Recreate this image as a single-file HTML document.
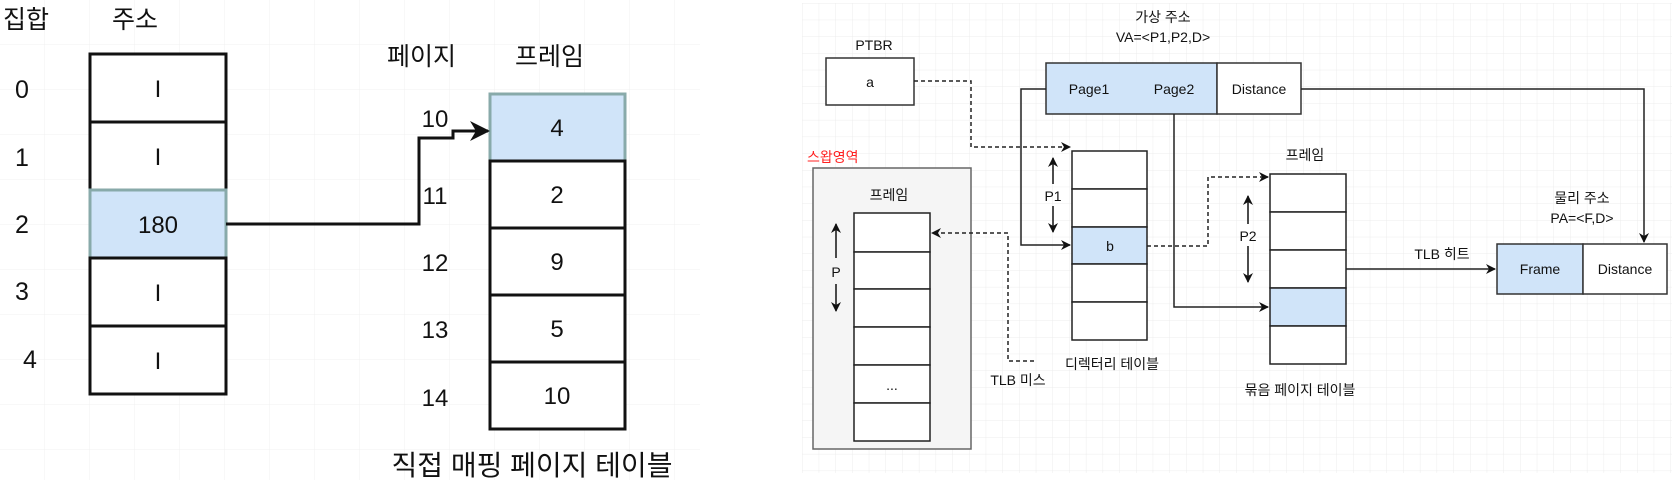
<!DOCTYPE html>
<html><head><meta charset="utf-8"><style>
html,body{margin:0;padding:0;background:#fff;}
svg{display:block;}
text{font-family:"Liberation Sans","Noto Sans CJK KR",sans-serif;fill:#111;}
</style></head><body>
<svg width="1672" height="480" viewBox="0 0 1672 480" xmlns="http://www.w3.org/2000/svg">
<defs>
<pattern id="g1" width="45" height="45" patternUnits="userSpaceOnUse"><path d="M45 0V45M0 45H45" fill="none" stroke="#f0f0f0" stroke-width="1"/></pattern>
<pattern id="g2" width="16.7" height="16.7" patternUnits="userSpaceOnUse" x="802" y="3"><path d="M0 0V16.7M0 0H16.7" fill="none" stroke="#ececec" stroke-width="1"/></pattern>
<marker id="a" viewBox="0 0 10 10" refX="9" refY="5" markerWidth="10" markerHeight="10" markerUnits="userSpaceOnUse" orient="auto"><path d="M0 0L10 5L0 10L3 5Z" fill="#111"/></marker>
<marker id="aL" viewBox="0 0 10 10" refX="9" refY="5" markerWidth="20" markerHeight="20" markerUnits="userSpaceOnUse" orient="auto"><path d="M0 0L10 5L0 10L3 5Z" fill="#111"/></marker>
</defs>
<rect x="0" y="0" width="700" height="480" fill="url(#g1)"/>
<rect x="802" y="3" width="870" height="470" fill="url(#g2)"/>

<!-- LEFT DIAGRAM -->
<g font-size="25">
<text x="3" y="28">집합</text>
<text x="112" y="28">주소</text>
<text x="22" y="98" text-anchor="middle">0</text>
<text x="22" y="166" text-anchor="middle">1</text>
<text x="22" y="233" text-anchor="middle">2</text>
<text x="22" y="300" text-anchor="middle">3</text>
<text x="30" y="368" text-anchor="middle">4</text>
</g>
<g stroke="#111" stroke-width="3" fill="#fff">
<rect x="90" y="54" width="136" height="68"/>
<rect x="90" y="122" width="136" height="68"/>
<rect x="90" y="190" width="136" height="68" fill="#d0e4f9" stroke="#8aa"/>
<rect x="90" y="258" width="136" height="68"/>
<rect x="90" y="326" width="136" height="68"/>
</g>
<g font-size="24" text-anchor="middle">
<text x="158" y="97">I</text><text x="158" y="165">I</text><text x="158" y="233">180</text><text x="158" y="301">I</text><text x="158" y="369">I</text>
</g>
<text x="387" y="65" font-size="25">페이지</text>
<text x="515" y="65" font-size="25">프레임</text>
<g stroke="#111" stroke-width="3" fill="#fff">
<rect x="490" y="94" width="135" height="67" fill="#d0e4f9" stroke="#8aa"/>
<rect x="490" y="161" width="135" height="67"/>
<rect x="490" y="228" width="135" height="67"/>
<rect x="490" y="295" width="135" height="67"/>
<rect x="490" y="362" width="135" height="67"/>
</g>
<g font-size="24" text-anchor="middle">
<text x="557" y="136">4</text><text x="557" y="203">2</text><text x="557" y="270">9</text><text x="557" y="337">5</text><text x="557" y="404">10</text>
<text x="435" y="127">10</text><text x="435" y="204">11</text><text x="435" y="271">12</text><text x="435" y="338">13</text><text x="435" y="406">14</text>
</g>
<path d="M226 224H419V138H453V131H488" fill="none" stroke="#111" stroke-width="3" marker-end="url(#aL)"/>
<text x="532" y="475" font-size="28" text-anchor="middle">직접 매핑 페이지 테이블</text>

<!-- RIGHT DIAGRAM -->
<g font-size="14" text-anchor="middle">
<text x="1163" y="22">가상 주소</text>
<text x="1163" y="42">VA=&lt;P1,P2,D&gt;</text>
<text x="874" y="50">PTBR</text>
</g>
<rect x="826" y="58" width="88" height="47" fill="#fff" stroke="#333" stroke-width="1.5"/>
<text x="870" y="87" font-size="14" text-anchor="middle">a</text>
<rect x="1046" y="63" width="171" height="51" fill="#d0e4f9" stroke="#333" stroke-width="1.5"/>
<rect x="1217" y="63" width="84" height="51" fill="#fff" stroke="#333" stroke-width="1.5"/>
<g font-size="14" text-anchor="middle">
<text x="1089" y="94">Page1</text><text x="1174" y="94">Page2</text><text x="1259" y="94">Distance</text>
</g>
<text x="807" y="162" font-size="14" style="fill:#ff2020">스왑영역</text>
<rect x="813" y="168" width="158" height="281" fill="#f5f5f5" stroke="#666" stroke-width="1.5"/>
<text x="889" y="200" font-size="14" text-anchor="middle">프레임</text>
<g stroke="#222" stroke-width="1.5" fill="#fff">
<rect x="854" y="213" width="76" height="39"/><rect x="854" y="252" width="76" height="37"/><rect x="854" y="289" width="76" height="38"/><rect x="854" y="327" width="76" height="38"/><rect x="854" y="365" width="76" height="38"/><rect x="854" y="403" width="76" height="38"/>
</g>
<text x="892" y="390" font-size="14" text-anchor="middle">...</text>
<g fill="none" stroke="#111" stroke-width="1.5">
<path d="M836 258V224" marker-end="url(#a)"/><path d="M836 284V311" marker-end="url(#a)"/>
<path d="M1053 184V158" marker-end="url(#a)"/><path d="M1053 206V232" marker-end="url(#a)"/>
<path d="M1248 224V196" marker-end="url(#a)"/><path d="M1248 246V282" marker-end="url(#a)"/>
</g>
<text x="836" y="277" font-size="14" text-anchor="middle">P</text>

<g stroke="#222" stroke-width="1.5" fill="#fff">
<rect x="1072" y="151" width="75" height="38"/><rect x="1072" y="189" width="75" height="38"/><rect x="1072" y="227" width="75" height="37" fill="#d0e4f9"/><rect x="1072" y="264" width="75" height="38"/><rect x="1072" y="302" width="75" height="38"/>
</g>
<text x="1110" y="251" font-size="14" text-anchor="middle">b</text>
<text x="1053" y="201" font-size="14" text-anchor="middle">P1</text>
<text x="1112" y="369" font-size="14" text-anchor="middle">디렉터리 테이블</text>

<text x="1305" y="160" font-size="14" text-anchor="middle">프레임</text>
<g stroke="#222" stroke-width="1.5" fill="#fff">
<rect x="1270" y="174" width="76" height="38"/><rect x="1270" y="212" width="76" height="38"/><rect x="1270" y="250" width="76" height="38"/><rect x="1270" y="288" width="76" height="38" fill="#d0e4f9"/><rect x="1270" y="326" width="76" height="38"/>
</g>
<text x="1248" y="241" font-size="14" text-anchor="middle">P2</text>
<text x="1300" y="395" font-size="14" text-anchor="middle">묶음 페이지 테이블</text>

<text x="1582" y="203" font-size="14" text-anchor="middle">물리 주소</text>
<text x="1582" y="223" font-size="14" text-anchor="middle">PA=&lt;F,D&gt;</text>
<rect x="1497" y="244" width="86" height="50" fill="#d0e4f9" stroke="#333" stroke-width="1.5"/>
<rect x="1583" y="244" width="84" height="50" fill="#fff" stroke="#333" stroke-width="1.5"/>
<text x="1540" y="274" font-size="14" text-anchor="middle">Frame</text>
<text x="1625" y="274" font-size="14" text-anchor="middle">Distance</text>
<text x="1442" y="259" font-size="14" text-anchor="middle">TLB 히트</text>
<text x="1018" y="385" font-size="14" text-anchor="middle">TLB 미스</text>

<g fill="none" stroke="#222" stroke-width="1.5">
<path d="M914 81H971V147H1070" stroke-dasharray="4 3" marker-end="url(#a)"/>
<path d="M1046 89H1021V245H1070" marker-end="url(#a)"/>
<path d="M1034 361H1008V233H932" stroke-dasharray="4 3" marker-end="url(#a)"/>
<path d="M1147 246H1208V177H1268" stroke-dasharray="4 3" marker-end="url(#a)"/>
<path d="M1174 114V307H1268" marker-end="url(#a)"/>
<path d="M1346 269H1495" marker-end="url(#a)"/>
<path d="M1301 89H1644V242" marker-end="url(#a)"/>
</g>
</svg>
</body></html>
